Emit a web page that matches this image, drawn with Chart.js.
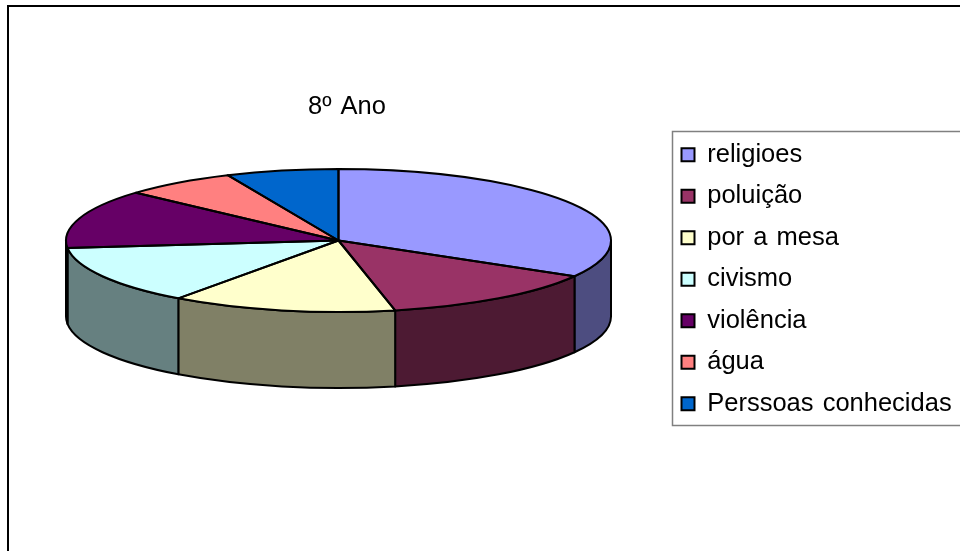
<!DOCTYPE html>
<html>
<head>
<meta charset="utf-8">
<title>8º Ano</title>
<script src="https://cdn.jsdelivr.net/npm/chart.js@4/dist/chart.umd.js"></script>
<style>
  html, body { margin: 0; padding: 0; background: #fff; }
  canvas { display: block; }
</style>
</head>
<body>
<canvas id="myChart" width="960" height="551"></canvas>
<script>
const titleText = '8º Ano'
const categories = ['religioes', 'poluição', 'por a mesa', 'civismo', 'violência', 'água', 'Perssoas conhecidas']
const values = [10, 4, 4, 4, 4, 2, 2]
const colors = ['#9999FF', '#993366', '#FFFFCC', '#CCFFFF', '#660066', '#FF8080', '#0066CC']

// the look of the old 3d pie
const squash = 71.5 / 272.5
const depth = 76

function darker(hex) {
    const n = parseInt(hex.slice(1), 16)
    return `rgb(${(n >> 16) / 2}, ${((n >> 8) & 255) / 2}, ${(n & 255) / 2})`
}

function arcProps(chart) {
    return chart.getDatasetMeta(0).data.map(a => a.getProps(['x', 'y', 'startAngle', 'endAngle', 'outerRadius']))
}

const pie3d = {
    id: 'pie3d',
    beforeDraw(chart) {
        const c = chart.ctx
        c.save()
        c.fillStyle = '#fff'
        c.fillRect(0, 0, chart.width, chart.height)
        // outer frame runs off the picture
        c.strokeStyle = '#000'
        c.lineWidth = 2
        c.strokeRect(8, 6, 1000, 1000)
        // legend box
        c.strokeStyle = '#808080'
        c.lineWidth = 1.5
        c.strokeRect(672.5, 131.5, 400, 294)
        c.restore()
        c.wordSpacing = '2px'
    },
    afterLayout(chart) {
        // put the boxes where the reference has them
        chart.chartArea = { left: 66, right: 611, top: -32, bottom: 513, width: 545, height: 545 }
        const t = chart.titleBlock
        t.left = 147; t.right = 547; t.top = 92; t.bottom = 122
        const l = chart.legend
        const w = l.width, h = l.height
        l.left = 665.5; l.right = 665.5 + w; l.top = 126; l.bottom = 126 + h
    },
    beforeDatasetsDraw(chart) {
        // side wall, only the front half shows
        const c = chart.ctx
        c.save()
        c.strokeStyle = '#000'
        c.lineWidth = 2
        c.lineJoin = 'round'
        arcProps(chart).forEach((a, i) => {
            const from = Math.max(a.startAngle, 0)
            const to = Math.min(a.endAngle, Math.PI)
            if (to <= from) return
            const ry = a.outerRadius * squash
            c.beginPath()
            c.ellipse(a.x, a.y, a.outerRadius, ry, 0, from, to)
            c.ellipse(a.x, a.y + depth, a.outerRadius, ry, 0, to, from, true)
            c.closePath()
            c.fillStyle = darker(colors[i])
            c.fill()
            c.stroke()
        })
        c.restore()
    },
    beforeDatasetDraw(chart) {
        const a = arcProps(chart)[0]
        const c = chart.ctx
        c.save()
        c.translate(a.x, a.y)
        c.scale(1, squash)
        c.translate(-a.x, -a.y)
    },
    afterDatasetDraw(chart) {
        chart.ctx.restore()
    },
    afterDatasetsDraw(chart) {
        // outlines go on after the squash so the line stays even
        const c = chart.ctx
        c.save()
        c.strokeStyle = '#000'
        c.lineWidth = 2
        c.lineJoin = 'round'
        arcProps(chart).forEach(a => {
            c.beginPath()
            c.moveTo(a.x, a.y)
            c.ellipse(a.x, a.y, a.outerRadius, a.outerRadius * squash, 0, a.startAngle, a.endAngle)
            c.closePath()
            c.stroke()
        })
        c.restore()
    }
}

const ctx = document.getElementById('myChart').getContext('2d')

const myChart = new Chart(ctx, {
    type: 'pie',
    data: {
        labels: categories,
        datasets: [{
            data: values,
            backgroundColor: colors,
            borderWidth: 0,
            clip: false
        }]
    },
    options: {
        responsive: false,
        animation: false,
        plugins: {
            tooltip: { enabled: false },
            title: {
                display: true,
                text: titleText,
                color: '#000',
                padding: 0,
                font: { family: 'Liberation Sans', size: 25.5, weight: 'normal' }
            },
            legend: {
                position: 'right',
                align: 'start',
                labels: {
                    color: '#000',
                    boxWidth: 13,
                    boxHeight: 13,
                    padding: 16,
                    font: { family: 'Liberation Sans', size: 25.5 },
                    generateLabels(chart) {
                        return Chart.overrides.pie.plugins.legend.labels.generateLabels(chart).map(item => {
                            item.strokeStyle = '#000'
                            item.lineWidth = 2
                            return item
                        })
                    }
                }
            }
        }
    },
    plugins: [pie3d]
})
</script>
</body>
</html>
